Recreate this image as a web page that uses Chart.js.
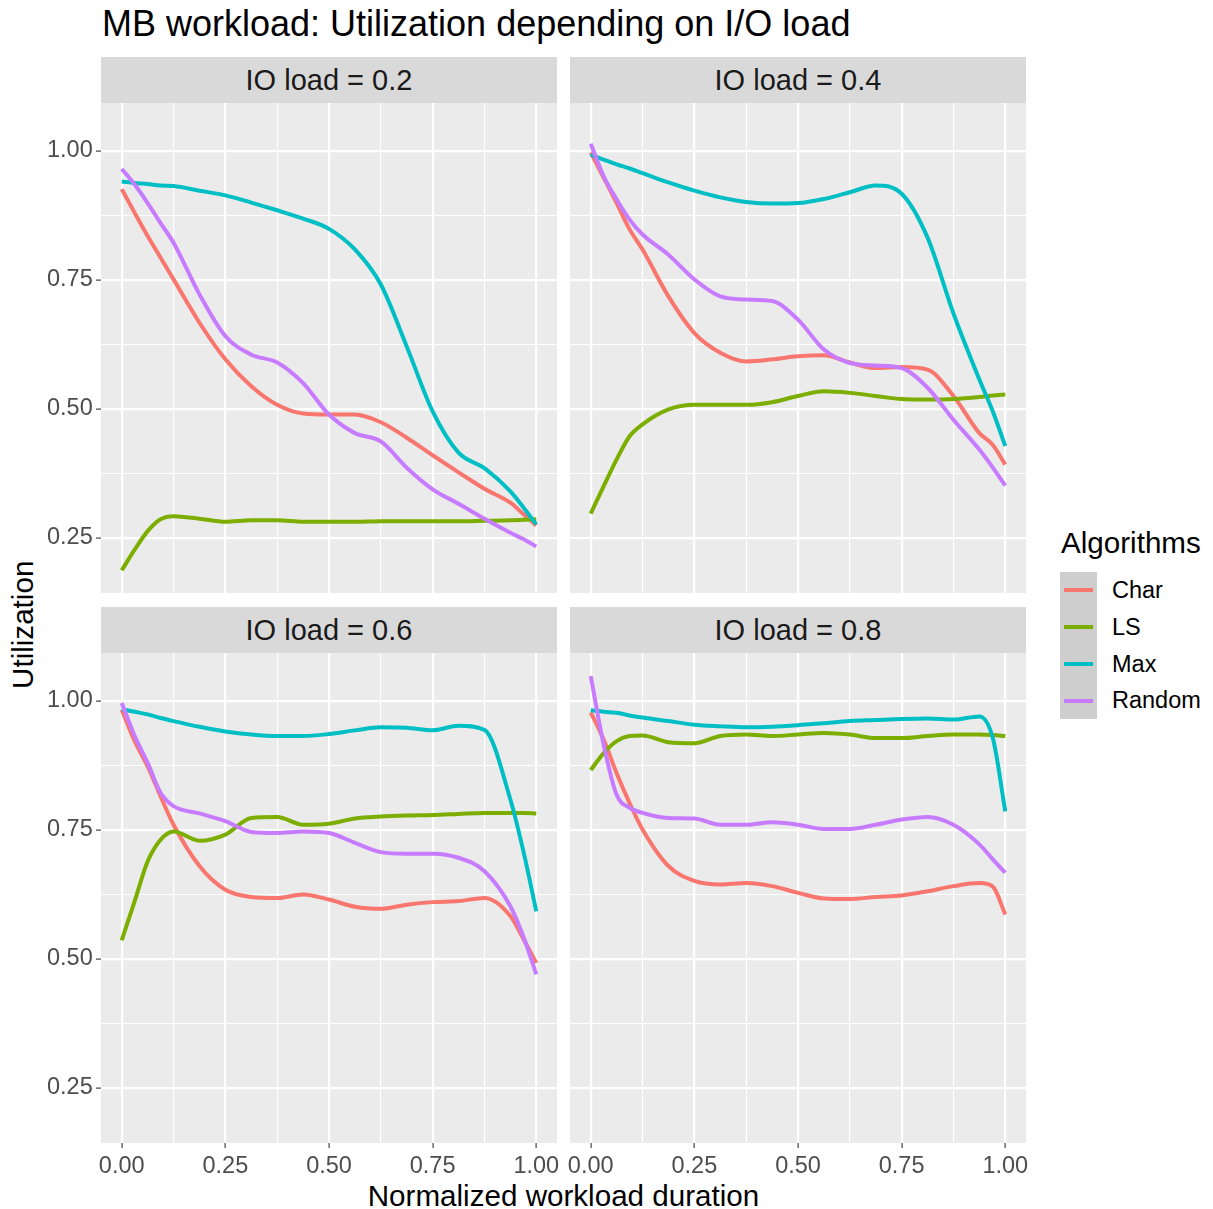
<!DOCTYPE html>
<html>
<head>
<meta charset="utf-8">
<title>MB workload: Utilization depending on I/O load</title>
<script src="https://cdn.jsdelivr.net/npm/chart.js@4.4.1/dist/chart.umd.min.js"></script>
<style>
	body { margin: 0; background: #ffffff; font-family: "Liberation Sans", Arial, sans-serif; }
	#page { position: relative; width: 1213px; height: 1209px; overflow: hidden; }
	#page div, #page canvas { position: absolute; }
	.title { left: 102px; top: 6px; font-size: 36px; line-height: 36px; color: #000000; white-space: nowrap; }
	.strip { width: 456px; height: 46px; line-height: 46px; background: #D9D9D9; color: #1A1A1A; font-size: 29px; text-align: center; }
	.xtitle { left: 101px; width: 925px; top: 1181px; font-size: 29.6px; line-height: 29.6px; text-align: center; color: #000000; }
	.ytitle { width: 300px; height: 29.6px; line-height: 29.6px; font-size: 29.6px; text-align: center; color: #000000;
		left: -127px; top: 610px; transform: rotate(-90deg); }
	.legend-title { left: 1061px; top: 528px; font-size: 29.6px; line-height: 29.6px; color: #000000; }
	.key { left: 1060px; width: 37px; height: 36.75px; background: #CECECE; }
	.key span { position: absolute; left: 4px; width: 29px; height: 4px; top: 16.4px; }
	.key-label { left: 1112px; height: 36.75px; line-height: 36.75px; font-size: 23.5px; color: #000000; }
</style>
</head>
<body>
<div id="page">
	<div class="title">MB workload: Utilization depending on I/O load</div>
	<div class="xtitle">Normalized workload duration</div>
	<div class="ytitle">Utilization</div>
	<div class="legend-title">Algorithms</div>
</div>

<script>
// shared x positions (normalized workload duration) for every smoothed curve
const xValues = [0, 0.03125, 0.0625, 0.09375, 0.125, 0.1875, 0.25, 0.3125, 0.375, 0.4375,
	0.5, 0.5625, 0.625, 0.6875, 0.75, 0.8125, 0.875, 0.9375, 0.97, 1];

const seriesNames = ['Char', 'LS', 'Max', 'Random'];
const seriesColors = ['#F8766D', '#7CAE00', '#00BFC4', '#C77CFF'];
const panelTitles = ['IO load = 0.2', 'IO load = 0.4', 'IO load = 0.6', 'IO load = 0.8'];

const xTicks = [0, 0.25, 0.5, 0.75, 1];
const yTicks = [0.25, 0.5, 0.75, 1];

// IO load = 0.2
const char02 = [0.926, 0.880, 0.835, 0.793, 0.751, 0.667, 0.596, 0.544, 0.508, 0.491, 0.489, 0.489, 0.474, 0.444, 0.410, 0.377, 0.345, 0.318, 0.295, 0.274];
const ls02 = [0.187, 0.227, 0.263, 0.286, 0.292, 0.287, 0.281, 0.284, 0.284, 0.281, 0.281, 0.281, 0.282, 0.282, 0.282, 0.282, 0.283, 0.284, 0.285, 0.286];
const max02 = [0.941, 0.938, 0.936, 0.933, 0.932, 0.923, 0.914, 0.900, 0.885, 0.869, 0.849, 0.809, 0.741, 0.621, 0.495, 0.415, 0.385, 0.340, 0.308, 0.276];
const random02 = [0.965, 0.935, 0.899, 0.860, 0.822, 0.722, 0.641, 0.605, 0.590, 0.550, 0.489, 0.453, 0.437, 0.386, 0.344, 0.316, 0.287, 0.260, 0.247, 0.233];

// IO load = 0.4
const char04 = [0.997, 0.948, 0.899, 0.848, 0.809, 0.718, 0.647, 0.609, 0.592, 0.596, 0.602, 0.604, 0.590, 0.579, 0.581, 0.576, 0.525, 0.453, 0.430, 0.392];
const ls04 = [0.297, 0.350, 0.402, 0.447, 0.470, 0.499, 0.508, 0.508, 0.508, 0.513, 0.525, 0.534, 0.531, 0.525, 0.519, 0.518, 0.519, 0.523, 0.526, 0.528];
const max04 = [0.993, 0.983, 0.974, 0.966, 0.957, 0.939, 0.923, 0.910, 0.901, 0.898, 0.899, 0.907, 0.920, 0.933, 0.917, 0.832, 0.685, 0.557, 0.495, 0.428];
const random04 = [1.014, 0.951, 0.906, 0.867, 0.838, 0.799, 0.751, 0.718, 0.712, 0.709, 0.673, 0.615, 0.589, 0.584, 0.579, 0.541, 0.479, 0.421, 0.386, 0.351];

// IO load = 0.6
const char06 = [0.983, 0.922, 0.873, 0.815, 0.760, 0.680, 0.634, 0.620, 0.618, 0.625, 0.615, 0.601, 0.597, 0.605, 0.610, 0.612, 0.618, 0.583, 0.537, 0.492];
const ls06 = [0.536, 0.612, 0.689, 0.731, 0.747, 0.729, 0.741, 0.773, 0.775, 0.760, 0.762, 0.772, 0.776, 0.778, 0.779, 0.781, 0.783, 0.783, 0.783, 0.782];
const max06 = [0.984, 0.979, 0.974, 0.967, 0.961, 0.950, 0.941, 0.935, 0.932, 0.932, 0.936, 0.943, 0.949, 0.948, 0.943, 0.952, 0.944, 0.809, 0.705, 0.592];
const random06 = [0.996, 0.932, 0.880, 0.822, 0.796, 0.782, 0.767, 0.746, 0.744, 0.747, 0.744, 0.725, 0.707, 0.704, 0.704, 0.696, 0.670, 0.602, 0.541, 0.470];

// IO load = 0.8
const char08 = [0.978, 0.925, 0.860, 0.802, 0.751, 0.680, 0.651, 0.644, 0.647, 0.641, 0.628, 0.617, 0.616, 0.620, 0.623, 0.631, 0.641, 0.647, 0.640, 0.586];
const ls08 = [0.866, 0.899, 0.922, 0.932, 0.933, 0.920, 0.918, 0.932, 0.935, 0.932, 0.935, 0.938, 0.935, 0.928, 0.928, 0.932, 0.935, 0.935, 0.934, 0.932];
const max08 = [0.982, 0.979, 0.977, 0.972, 0.968, 0.961, 0.954, 0.951, 0.949, 0.950, 0.953, 0.957, 0.961, 0.963, 0.965, 0.966, 0.964, 0.970, 0.928, 0.786];
const random08 = [1.048, 0.915, 0.818, 0.793, 0.783, 0.773, 0.772, 0.760, 0.760, 0.765, 0.760, 0.752, 0.752, 0.760, 0.770, 0.775, 0.760, 0.722, 0.693, 0.667];

const panelSeries = [
	[char02, ls02, max02, random02],
	[char04, ls04, max04, random04],
	[char06, ls06, max06, random06],
	[char08, ls08, max08, random08],
];

// facet layout: plot area origin, and which outer axes get labels
const panels = [
	{ left: 101, top: 103, showX: false, showY: true },
	{ left: 570, top: 103, showX: false, showY: false },
	{ left: 101, top: 653, showX: true, showY: true },
	{ left: 570, top: 653, showX: true, showY: false },
];
const PANEL_W = 456;
const PANEL_H = 490;
const Y_AXIS_W = 70;
const X_AXIS_H = 40;
const MARGIN = 20; // room for label overflow so the plot area keeps its size

const X_MIN = -0.05, X_MAX = 1.05;
const Y_MIN = 0.143, Y_MAX = 1.093;

const tickColor = '#4D4D4D';
const tickFont = { family: '"Liberation Sans", Arial, sans-serif', size: 23.5, lineHeight: 1.2 };

// major ticks plus the minor ones halfway between them (ggplot style grid)
const withMinor = (major, min, max) => {
	const step = major[1] - major[0];
	const all = [];
	for (let v = major[0] - step / 2; v <= major[major.length - 1] + step / 2 + 1e-9; v += step / 2) {
		if (v >= min && v <= max) all.push(Math.round(v * 1000) / 1000);
	}
	return all;
};
const isMajor = (list, v) => list.some(m => Math.abs(m - v) < 1e-6);

const panelBackground = {
	id: 'panelBackground',
	beforeDraw(chart) {
		const { ctx, chartArea } = chart;
		ctx.save();
		ctx.fillStyle = '#EBEBEB';
		ctx.fillRect(chartArea.left, chartArea.top, chartArea.right - chartArea.left, chartArea.bottom - chartArea.top);
		ctx.restore();
	}
};

const axisOptions = (major, min, max, showLabels, horizontal) => ({
	type: 'linear',
	position: horizontal ? 'bottom' : 'left',
	min: min,
	max: max,
	afterBuildTicks: (scale) => {
		scale.ticks = withMinor(major, min, max).map(v => ({ value: v }));
	},
	afterFit: (scale) => {
		if (horizontal) scale.height = showLabels ? X_AXIS_H : 0;
		else scale.width = showLabels ? Y_AXIS_W : 0;
	},
	border: { display: false },
	grid: {
		color: '#FFFFFF',
		lineWidth: (ctx) => (ctx.tick && isMajor(major, ctx.tick.value) ? 2.2 : 1.1),
		drawTicks: showLabels,
		tickLength: 5,
		tickWidth: 1.1,
		tickColor: (ctx) => (ctx.tick && isMajor(major, ctx.tick.value) ? '#333333' : 'rgba(0,0,0,0)'),
	},
	ticks: {
		display: showLabels,
		autoSkip: false,
		maxRotation: 0,
		padding: horizontal ? 4.5 : 3.3,
		color: tickColor,
		font: tickFont,
		callback: (value) => (isMajor(major, value) ? value.toFixed(2) : ''),
	},
});

const page = document.getElementById('page');

panels.forEach((panel, p) => {
	const strip = document.createElement('div');
	strip.className = 'strip';
	strip.style.left = panel.left + 'px';
	strip.style.top = (panel.top - 46) + 'px';
	strip.textContent = panelTitles[p];
	page.appendChild(strip);

	const leftSpace = panel.showY ? Y_AXIS_W : MARGIN;
	const cw = leftSpace + PANEL_W + MARGIN;
	const ch = MARGIN + PANEL_H + (panel.showX ? X_AXIS_H : 0) + MARGIN;
	const canvas = document.createElement('canvas');
	canvas.width = cw;
	canvas.height = ch;
	canvas.style.width = cw + 'px';
	canvas.style.height = ch + 'px';
	canvas.style.left = (panel.left - leftSpace) + 'px';
	canvas.style.top = (panel.top - MARGIN) + 'px';
	page.appendChild(canvas);

	new Chart(canvas.getContext('2d'), {
		type: 'line',
		data: {
			datasets: panelSeries[p].map((values, i) => ({
				label: seriesNames[i],
				data: xValues.map((x, k) => ({ x: x, y: values[k] })),
				borderColor: seriesColors[i],
				borderWidth: 4,
				pointRadius: 0,
				fill: false,
				cubicInterpolationMode: 'monotone',
				order: seriesNames.length - i,
			})),
		},
		options: {
			responsive: false,
			animation: false,
			events: [],
			layout: { padding: { left: panel.showY ? 0 : MARGIN, right: MARGIN, top: MARGIN, bottom: MARGIN } },
			plugins: { legend: { display: false }, tooltip: { enabled: false } },
			scales: {
				x: axisOptions(xTicks, X_MIN, X_MAX, panel.showX, true),
				y: axisOptions(yTicks, Y_MIN, Y_MAX, panel.showY, false),
			},
		},
		plugins: [panelBackground],
	});
});

// legend keys
seriesNames.forEach((name, i) => {
	const top = 572 + i * 36.75;
	const key = document.createElement('div');
	key.className = 'key';
	key.style.top = top + 'px';
	const line = document.createElement('span');
	line.style.background = seriesColors[i];
	key.appendChild(line);
	page.appendChild(key);

	const label = document.createElement('div');
	label.className = 'key-label';
	label.style.top = top + 'px';
	label.textContent = name;
	page.appendChild(label);
});
</script>
</body>
</html>
